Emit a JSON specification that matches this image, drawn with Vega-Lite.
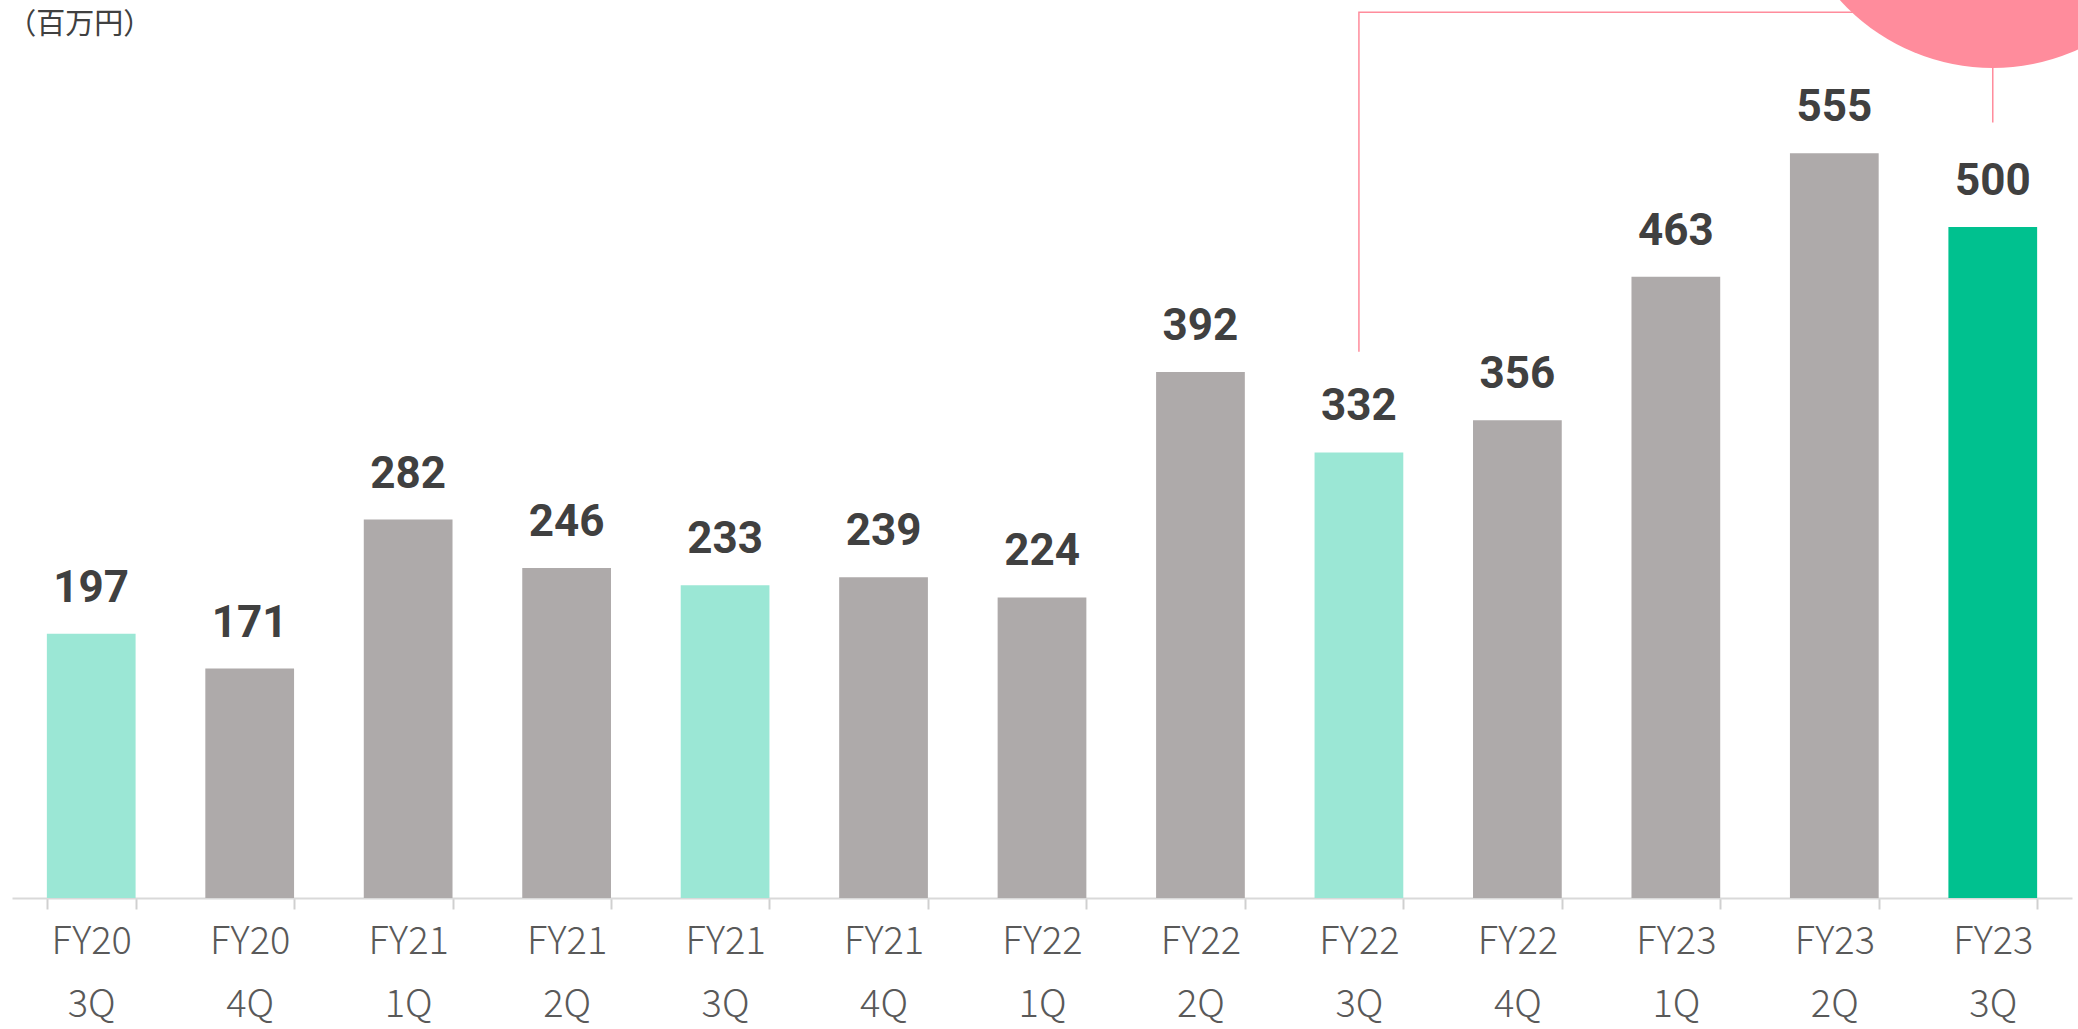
{
  "$schema": "https://vega.github.io/schema/vega-lite/v6.json",
  "width": 2060,
  "height": 898,
  "padding": {"left": 12, "top": 0, "right": 6, "bottom": 131},
  "autosize": {"type": "none"},
  "background": "white",
  "config": {"view": {"stroke": null}},
  "datasets": {
    "bars": [
      {"period": "FY20 3Q", "value": 197, "kind": "q3"},
      {"period": "FY20 4Q", "value": 171, "kind": "other"},
      {"period": "FY21 1Q", "value": 282, "kind": "other"},
      {"period": "FY21 2Q", "value": 246, "kind": "other"},
      {"period": "FY21 3Q", "value": 233, "kind": "q3"},
      {"period": "FY21 4Q", "value": 239, "kind": "other"},
      {"period": "FY22 1Q", "value": 224, "kind": "other"},
      {"period": "FY22 2Q", "value": 392, "kind": "other"},
      {"period": "FY22 3Q", "value": 332, "kind": "q3"},
      {"period": "FY22 4Q", "value": 356, "kind": "other"},
      {"period": "FY23 1Q", "value": 463, "kind": "other"},
      {"period": "FY23 2Q", "value": 555, "kind": "other"},
      {"period": "FY23 3Q", "value": 500, "kind": "current"}
    ],
    "bracket": [
      {"period": "FY22 3Q", "value": 407, "ord": 1},
      {"period": "FY22 3Q", "value": 660, "ord": 2},
      {"period": "FY23 3Q", "value": 660, "ord": 3},
      {"period": "FY23 3Q", "value": 578, "ord": 4}
    ],
    "bubble": [{"period": "FY23 3Q", "value": 772}],
    "unit": [{"period": "FY20 3Q", "value": 644, "text": "（百万円）"}]
  },
  "encoding": {
    "x": {
      "field": "period",
      "type": "nominal",
      "sort": null,
      "scale": {"paddingInner": 0.44, "paddingOuter": 0.22},
      "axis": {
        "title": null,
        "labelAngle": 0,
        "labelExpr": "split(datum.label, ' ')",
        "labelFont": "Noto Sans CJK JP",
        "labelFontWeight": 300,
        "labelFontSize": 38,
        "labelColor": "#595959",
        "labelLineHeight": 63,
        "labelBaseline": "top",
        "labelPadding": 14,
        "tickBand": "extent",
        "tickSize": 11,
        "tickColor": "#D0D0D0",
        "tickWidth": 2,
        "domainColor": "#D9D9D9",
        "domainWidth": 2,
        "grid": false
      }
    },
    "y": {
      "field": "value",
      "type": "quantitative",
      "scale": {"domain": [0, 669.2], "nice": false, "zero": true},
      "axis": null
    }
  },
  "layer": [
    {
      "data": {"name": "bars"},
      "mark": {"type": "bar"},
      "encoding": {
        "color": {
          "field": "kind",
          "type": "nominal",
          "scale": {"domain": ["q3", "other", "current"], "range": ["#9BE7D5", "#AEAAAA", "#00C18F"]},
          "legend": null
        }
      }
    },
    {
      "data": {"name": "bars"},
      "mark": {"type": "text", "font": "Roboto", "fontWeight": "bold", "fontSize": 44, "color": "#404040", "baseline": "alphabetic", "dy": -32},
      "encoding": {"text": {"field": "value", "type": "quantitative"}}
    },
    {
      "data": {"name": "bracket"},
      "mark": {"type": "line", "color": "#FF8C9C", "strokeWidth": 1.5, "clip": false},
      "encoding": {"order": {"field": "ord", "type": "quantitative"}}
    },
    {
      "data": {"name": "bubble"},
      "mark": {"type": "point", "shape": "circle", "filled": true, "opacity": 1, "color": "#FF8C9C", "size": 169700, "clip": false},
      "encoding": {}
    },
    {
      "data": {"name": "unit"},
      "mark": {"type": "text", "font": "Noto Sans CJK JP", "fontSize": 29, "color": "#404040", "align": "left", "baseline": "alphabetic", "dx": -84},
      "encoding": {"text": {"field": "text", "type": "nominal"}}
    }
  ]
}
